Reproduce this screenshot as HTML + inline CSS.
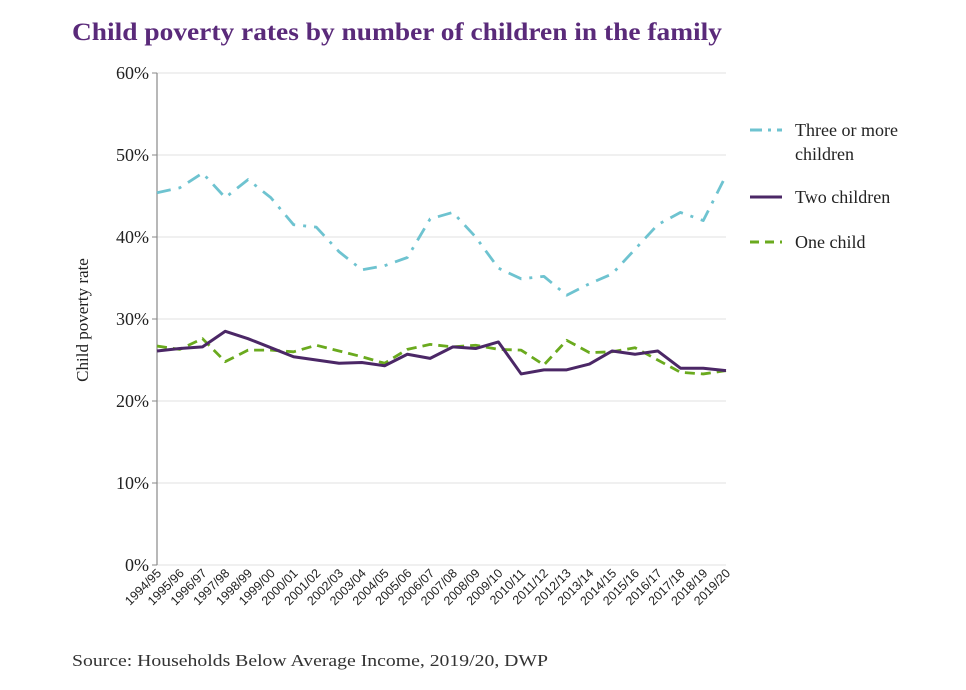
<!DOCTYPE html>
<html><head><meta charset="utf-8"><style>
body{margin:0;background:#fff;width:966px;height:685px;overflow:hidden;font-family:"Liberation Serif",serif}
</style></head><body>
<svg id="c" width="966" height="685">
<text x="72" y="40" font-size="25" font-weight="bold" fill="#5a2a7a" textLength="650" lengthAdjust="spacingAndGlyphs">Child poverty rates by number of children in the family</text>
<text x="72" y="666" font-size="17" fill="#333" textLength="476" lengthAdjust="spacingAndGlyphs">Source: Households Below Average Income, 2019/20, DWP</text>
<text transform="translate(88,320) rotate(-90)" text-anchor="middle" font-size="17" fill="#222">Child poverty rate</text>
<g id="g"></g>
</svg>
<script>
const categories=["1994/95","1995/96","1996/97","1997/98","1998/99","1999/00","2000/01","2001/02","2002/03","2003/04","2004/05","2005/06","2006/07","2007/08","2008/09","2009/10","2010/11","2011/12","2012/13","2013/14","2014/15","2015/16","2016/17","2017/18","2018/19","2019/20"];
const threePlus=[45.4,46,47.8,44.8,47,44.8,41.5,41.2,38.2,36,36.5,37.5,42.2,43,40,36.2,34.9,35.2,32.9,34.3,35.5,38.5,41.5,43,42,47.5];
const twoChildren=[26.1,26.4,26.6,28.5,27.6,26.5,25.4,25,24.6,24.7,24.3,25.7,25.2,26.6,26.4,27.2,23.3,23.8,23.8,24.5,26.1,25.7,26.1,24,24,23.7];
const oneChild=[26.7,26.3,27.6,24.8,26.2,26.2,26,26.8,26.1,25.4,24.6,26.3,26.9,26.6,26.8,26.3,26.2,24.4,27.4,25.9,26,26.5,25,23.5,23.3,23.7];
const yTicks=[0,10,20,30,40,50,60];
const NS="http://www.w3.org/2000/svg";
const g=document.getElementById('g');
const x0=157,x1=726,yb=565,yt=73;
const X=i=>x0+i*(x1-x0)/(categories.length-1);
const Y=v=>yb-(v/60)*(yb-yt);
function mk(t,a){const e=document.createElementNS(NS,t);for(const k in a)e.setAttribute(k,a[k]);g.appendChild(e);return e;}
yTicks.forEach(v=>{
 const l=mk('line',{x1:x0,x2:x1,y1:Y(v),y2:Y(v),stroke:'#e2e2e2','stroke-width':1});
 
 
 mk('line',{x1:x0-5,x2:x0,y1:Y(v),y2:Y(v),stroke:'#888'});
 const t=mk('text',{x:x0-8,y:Y(v)+6,'text-anchor':'end','font-size':18,fill:'#222'});
 t.textContent=v+'%';
 
 
});
const ax=mk('line',{x1:x0,x2:x0,y1:yt,y2:yb,stroke:'#888','stroke-width':1.2});


categories.forEach((c,i)=>{
 const t=mk('text',{transform:`translate(${X(i)+5},${yb+9}) rotate(-45)`,'text-anchor':'end','font-size':12.5,fill:'#222','font-family':'Liberation Sans, sans-serif'});
 t.textContent=c;
 
 
});
function series(d,col,dash,name){
 const p=mk('polyline',{points:d.map((v,i)=>X(i)+','+Y(v)).join(' '),fill:'none',stroke:col,'stroke-width':name=='two-children-line'?3:2.8,'stroke-dasharray':dash,'stroke-linejoin':'round'});
 
 
}
series(threePlus,'#6ec3d0','14 8 3 8','three-or-more-line');
series(oneChild,'#6aaa1e','10 6','one-child-line');
series(twoChildren,'#4b2766','','two-children-line');
function leg(y,col,dash,lines,name){
 const l=mk('line',{x1:750,x2:782,y1:y,y2:y,stroke:col,'stroke-width':3,'stroke-dasharray':dash});
 
 
 lines.forEach((s,k)=>{const t=mk('text',{x:795,y:y+6+k*24,'font-size':18,fill:'#222'});t.textContent=s;
 
 });
}
leg(130,'#6ec3d0','12 6 3 6',['Three or more','children'],'legend-three-or-more');
leg(197,'#4b2766','',['Two children'],'legend-two-children');
leg(242,'#6aaa1e','9 6',['One child'],'legend-one-child');
</script>
</body></html>
